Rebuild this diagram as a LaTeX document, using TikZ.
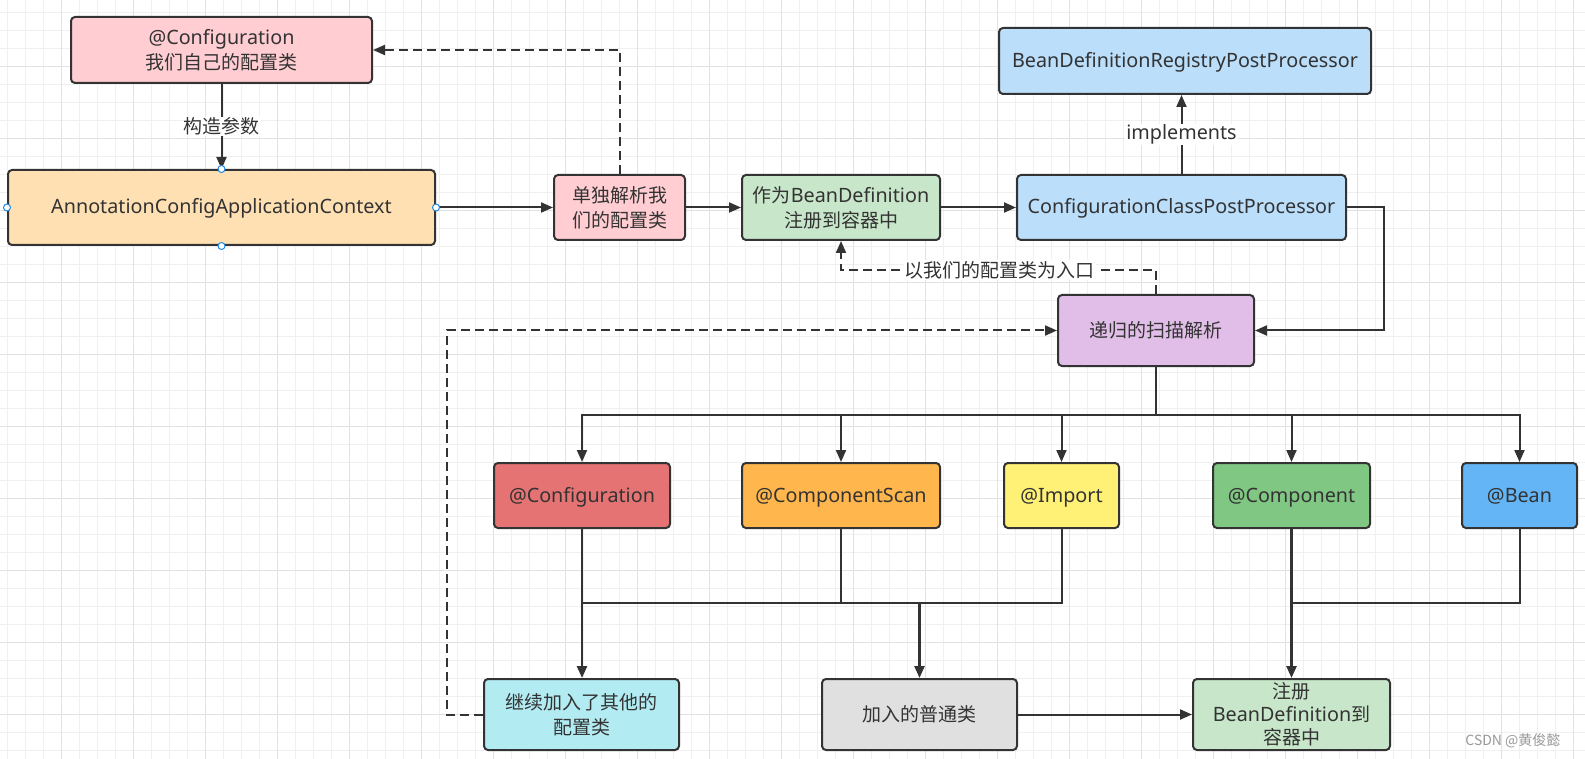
\documentclass[tikz,border=0pt]{standalone}
\usepackage{fontspec}
\setmainfont{Noto Sans CJK SC}
\newfontfamily\latinfont[Scale=1.04]{Noto Sans}
\newcommand\LatinTxt[1]{{\latinfont #1}}
\usetikzlibrary{arrows.meta}
\definecolor{lc}{HTML}{333333}
\definecolor{cPink}{HTML}{FFCDD2}
\definecolor{cPeach}{HTML}{FFE0B2}
\definecolor{cGreenL}{HTML}{C8E6C9}
\definecolor{cBlueL}{HTML}{BBDEFB}
\definecolor{cPurple}{HTML}{E1BEE7}
\definecolor{cRed}{HTML}{E57373}
\definecolor{cOrange}{HTML}{FFB74D}
\definecolor{cYellow}{HTML}{FFF176}
\definecolor{cGreen}{HTML}{81C784}
\definecolor{cBlue}{HTML}{64B5F6}
\definecolor{cCyan}{HTML}{B2EBF2}
\definecolor{cGrey}{HTML}{E0E0E0}
\definecolor{gMinor}{HTML}{F0F0F0}
\definecolor{gMajor}{HTML}{E2E2E2}
\definecolor{hBlue}{HTML}{1E88E5}
\begin{document}
\begin{tikzpicture}[x=1pt,y=-1pt,
  box/.style={draw=lc, line width=2pt, rounded corners=4pt, align=center, inner sep=0pt,
    text=lc, font=\fontsize{19}{25}\selectfont},
  oneline/.style={text height=16pt, text depth=3pt},
  line/.style={draw=lc, line width=2pt},
  arr/.style={line, -{Triangle[length=12pt,width=10pt]}},
  dsh/.style={dash pattern=on 9pt off 5pt},
  lbl/.style={fill=white, text=lc, inner sep=1pt, font=\fontsize{19}{22}\selectfont},
  handle/.style={circle, draw=hBlue, fill=white, line width=1pt, inner sep=0pt, minimum size=7pt}]
\useasboundingbox (0,0) rectangle (1585,759);
\fill[white] (0,0) rectangle (1585,759);
% grid
\foreach \k in {0,...,88} \draw[gMinor, line width=1pt] ({7.3+18*\k},0) -- ({7.3+18*\k},759);
\foreach \k in {0,...,42} \draw[gMinor, line width=1pt] (0,{12.3+18*\k}) -- (1585,{12.3+18*\k});
\foreach \k in {0,...,21} \draw[gMajor, line width=1pt] ({61.3+72*\k},0) -- ({61.3+72*\k},759);
\foreach \k in {0,...,9} \draw[gMajor, line width=1pt] (0,{66.3+72*\k}) -- (1585,{66.3+72*\k});

% nodes
\node[box, fill=cPink, minimum width=301pt, minimum height=66pt] (b1) at (221.5,50) {\LatinTxt{@Configuration}\\我们自己的配置类};
\node[box, oneline, fill=cPeach, minimum width=427pt, minimum height=75pt] (b2) at (221.5,207.5) {\LatinTxt{AnnotationConfigApplicationContext}};
\node[box, fill=cPink, minimum width=131pt, minimum height=65pt] (b3) at (619.5,207.5) {单独解析我\\们的配置类};
\node[box, fill=cGreenL, minimum width=198pt, minimum height=65pt] (b4) at (841,207.5) {作为\LatinTxt{BeanDefinition}\\注册到容器中};
\node[box, oneline, fill=cBlueL, minimum width=329pt, minimum height=65pt] (b5) at (1181.5,207.5) {\LatinTxt{ConfigurationClassPostProcessor}};
\node[box, oneline, fill=cBlueL, minimum width=372pt, minimum height=66pt] (b6) at (1185,61) {\LatinTxt{BeanDefinitionRegistryPostProcessor}};
\node[box, fill=cPurple, minimum width=196pt, minimum height=71pt] (b7) at (1156,330.5) {递归的扫描解析};
\node[box, oneline, fill=cRed, minimum width=176pt, minimum height=65pt] (b8) at (582,495.5) {\LatinTxt{@Configuration}};
\node[box, oneline, fill=cOrange, minimum width=198pt, minimum height=65pt] (b9) at (841,495.5) {\LatinTxt{@ComponentScan}};
\node[box, oneline, fill=cYellow, minimum width=115pt, minimum height=65pt] (b10) at (1061.5,495.5) {\LatinTxt{@Import}};
\node[box, oneline, fill=cGreen, minimum width=157pt, minimum height=65pt] (b11) at (1291.5,495.5) {\LatinTxt{@Component}};
\node[box, oneline, fill=cBlue, minimum width=115pt, minimum height=65pt] (b12) at (1519.5,495.5) {\LatinTxt{@Bean}};
\node[box, fill=cCyan, minimum width=195pt, minimum height=71pt] (b13) at (581.5,714.5) {继续加入了其他的\\配置类};
\node[box, fill=cGrey, minimum width=195pt, minimum height=71pt] (b14) at (919.5,714.5) {加入的普通类};
\node[box, fill=cGreenL, minimum width=197pt, minimum height=71pt, font=\fontsize{19}{23}\selectfont] (b15) at (1291.5,714.5) {注册\\\LatinTxt{BeanDefinition}到\\容器中};

% connectors
\draw[arr] (b1) -- node[lbl] (l1) {构造参数} (b2);
\draw[arr] (b2) -- (b3);
\draw[arr, dsh] (b3.north) |- (b1.east);
\draw[arr] (b3) -- (b4);
\draw[arr] (b4) -- (b5);
\draw[arr] (b5.north) -- node[lbl] (l2) {\LatinTxt{implements}} (b5.north |- b6.south);
\draw[arr] (b5.east) -- ++(37,0) |- (b7.east);
\draw[arr, dsh] (b7.north) -- ++(0,-24) -| node[lbl, pos=0.248] (l3) {以我们的配置类为入口} (b4.south);
\draw[line, line width=2.5pt] (b7.south) -- ++(0,48) coordinate (bus);
\foreach \t in {b8,b9,b10,b11,b12} \draw[arr] (bus) -| (\t.north);
\coordinate (mrg) at (919.5,603);
\draw[arr, line width=2.5pt] (b8.south) -- (b8.south |- b13.north);
\draw[line] (b9.south) -- (b9.south |- mrg);
\draw[line] (b10.south) |- (b8.south |- mrg);
\draw[arr, line width=2.5pt] (mrg) -- (b14.north);
\draw[arr, line width=2.5pt] (b11) -- (b15);
\draw[line] (b12.south) |- (b11.south |- mrg);
\draw[arr] (b14) -- (b15);
\draw[arr, dsh] (b13.west) -- ++(-36,0) |- (b7.west);

% selection handles
\node[handle] (h1) at (b2.north) {};
\node[handle] (h2) at (b2.south) {};
\node[handle] (h3) at (b2.east) {};
\node[handle] (h4) at (b2.west) {};

\node[text=black!40, font=\fontsize{14}{16}\selectfont, anchor=east] (wm) at (1564,741) {CSDN @黄俊懿};
\end{tikzpicture}
\end{document}
